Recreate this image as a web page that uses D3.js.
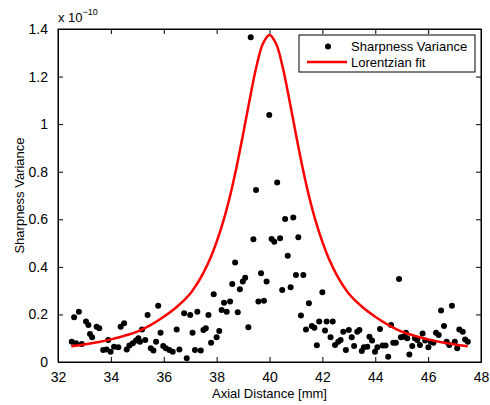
<!DOCTYPE html>
<html>
<head>
<meta charset="utf-8">
<script src="https://cdn.jsdelivr.net/npm/d3@7"></script>
<style>
  body { margin: 0; background: #fff; }
  svg { display: block; font-family: "Liberation Sans", Arial, Helvetica, sans-serif; }
</style>
</head>
<body>
<svg id="chart" width="490" height="405"></svg>
<script>
// Measured sharpness variance (units of 1e-10)
const sharpX = [
  32.52, 32.61, 32.68, 32.79, 32.90, 33.06, 33.15, 33.21, 33.29, 33.46, 33.56, 33.71, 33.84, 33.90, 33.99,
  34.12, 34.28, 34.37, 34.50, 34.60, 34.70, 34.83, 34.95, 35.04, 35.10, 35.18, 35.30, 35.39, 35.51, 35.61,
  35.71, 35.79, 35.88, 35.98, 36.08, 36.21, 36.34, 36.49, 36.59, 36.77, 36.87, 37.00, 37.09, 37.18, 37.27,
  37.40, 37.50, 37.59, 37.69, 37.79, 37.89, 38.00, 38.10, 38.19, 38.28, 38.38, 38.51, 38.59, 38.70, 38.80,
  38.88, 38.99, 39.08, 39.20, 39.29, 39.39, 39.49, 39.58, 39.68, 39.79, 39.89, 39.99, 40.08, 40.18, 40.29,
  40.40, 40.48, 40.59, 40.69, 40.80, 40.90, 41.00, 41.09, 41.19, 41.28, 41.38, 41.49, 41.60, 41.70, 41.79,
  41.88, 42.00, 42.10, 42.16, 42.31, 42.39, 42.48, 42.60, 42.69, 42.79, 42.89, 43.00, 43.11, 43.20, 43.32,
  43.40, 43.49, 43.57, 43.70, 43.78, 43.88, 43.99, 44.08, 44.18, 44.28, 44.39, 44.49, 44.60, 44.68, 44.78,
  44.90, 44.97, 45.06, 45.16, 45.21, 45.29, 45.40, 45.50, 45.59, 45.69, 45.79, 45.89, 46.01, 46.10, 46.20,
  46.30, 46.40, 46.49, 46.60, 46.70, 46.80, 46.90, 47.01, 47.10, 47.18, 47.31, 47.40, 47.50
];
const sharpY = [
  0.085, 0.188, 0.079, 0.211, 0.076, 0.170, 0.156, 0.118, 0.104, 0.148, 0.142, 0.050, 0.053, 0.092, 0.043,
  0.064, 0.062, 0.148, 0.163, 0.053, 0.069, 0.079, 0.090, 0.100, 0.085, 0.137, 0.092, 0.198, 0.058, 0.048,
  0.085, 0.237, 0.123, 0.067, 0.058, 0.050, 0.043, 0.137, 0.053, 0.205, 0.016, 0.198, 0.123, 0.050, 0.211,
  0.048, 0.135, 0.142, 0.198, 0.081, 0.285, 0.104, 0.130, 0.219, 0.249, 0.211, 0.254, 0.328, 0.418, 0.209,
  0.306, 0.338, 0.354, 0.146, 1.365, 0.516, 0.723, 0.254, 0.373, 0.258, 0.338, 1.038, 0.517, 0.506, 0.755,
  0.520, 0.303, 0.601, 0.447, 0.314, 0.607, 0.366, 0.524, 0.195, 0.366, 0.137, 0.247, 0.151, 0.144, 0.070,
  0.170, 0.293, 0.132, 0.170, 0.104, 0.170, 0.071, 0.085, 0.092, 0.127, 0.050, 0.135, 0.104, 0.067, 0.127,
  0.135, 0.046, 0.062, 0.064, 0.106, 0.090, 0.043, 0.062, 0.139, 0.069, 0.069, 0.022, 0.156, 0.081, 0.081,
  0.349, 0.104, 0.106, 0.123, 0.100, 0.032, 0.067, 0.100, 0.092, 0.071, 0.120, 0.090, 0.062, 0.085, 0.081,
  0.123, 0.113, 0.216, 0.151, 0.085, 0.071, 0.237, 0.085, 0.058, 0.137, 0.127, 0.095, 0.085
];

// Lorentzian fit curve
const fitX = [
  32.5, 33, 33.5, 34, 34.5, 35, 35.5, 36, 36.5, 37, 37.25, 37.5, 37.75, 38, 38.25, 38.5, 38.75, 39, 39.25,
  39.5, 39.75, 40, 40.25, 40.5, 40.75, 41, 41.25, 41.5, 41.75, 42, 42.25, 42.5, 42.75, 43, 43.5, 44, 44.5,
  45, 45.5, 46, 46.5, 47, 47.5
];
const fitY = [
  0.066, 0.074, 0.083, 0.095, 0.110, 0.128, 0.155, 0.190, 0.232, 0.287, 0.327, 0.375, 0.433, 0.505, 0.591,
  0.695, 0.818, 0.957, 1.103, 1.239, 1.338, 1.375, 1.338, 1.239, 1.103, 0.957, 0.818, 0.695, 0.591, 0.505,
  0.433, 0.375, 0.327, 0.287, 0.232, 0.190, 0.155, 0.128, 0.110, 0.095, 0.083, 0.074, 0.066
];

const xTicks = [32, 34, 36, 38, 40, 42, 44, 46, 48];
const yTicks = [0, 0.2, 0.4, 0.6, 0.8, 1, 1.2, 1.4];
const yTickLabels = ["0", "0.2", "0.4", "0.6", "0.8", "1", "1.2", "1.4"];
const legendLabels = ["Sharpness Variance", "Lorentzian fit"];

// Set up dimensions
const margin = { top: 29, right: 9, bottom: 43, left: 58 };
const width = 490 - margin.left - margin.right;
const height = 405 - margin.top - margin.bottom;

const svg = d3.select("#chart");
const g = svg.append("g")
  .attr("transform", `translate(${ margin.left }, ${ margin.top })`);

// Scales
const xScale = d3.scaleLinear().domain([32, 48]).range([0, width]);
const yScale = d3.scaleLinear().domain([0, 1.4]).range([height, 0]);

// Axes (inward ticks on all four sides, MATLAB style)
const tickLen = 5;
g.append("g")
  .attr("transform", `translate(0, ${ height })`)
  .call(d3.axisBottom(xScale).tickValues(xTicks).tickSizeInner(-tickLen).tickSizeOuter(0).tickPadding(7))
  .call(a => a.selectAll("text").attr("font-size", "14px").attr("fill", "#000").attr("dy", "0.95em"));

g.append("g")
  .call(d3.axisTop(xScale).tickValues(xTicks).tickSizeInner(-tickLen).tickSizeOuter(0).tickFormat(""));

g.append("g")
  .call(d3.axisLeft(yScale).tickValues(yTicks).tickSizeInner(-tickLen).tickSizeOuter(0).tickPadding(10)
    .tickFormat((d, i) => yTickLabels[i]))
  .call(a => a.selectAll("text").attr("font-size", "14px").attr("fill", "#000"));

g.append("g")
  .attr("transform", `translate(${ width }, 0)`)
  .call(d3.axisRight(yScale).tickValues(yTicks).tickSizeInner(-tickLen).tickSizeOuter(0).tickFormat(""));

svg.selectAll(".domain").attr("stroke", "#000");
svg.selectAll(".tick line").attr("stroke", "#000");

// Box
g.append("rect")
  .attr("width", width)
  .attr("height", height)
  .attr("fill", "none")
  .attr("stroke", "#000")
  .attr("stroke-width", 1);

// Scatter points
const points = sharpX.map((x, i) => ({ x: x, y: sharpY[i] }));
g.selectAll("circle.pt")
  .data(points)
  .enter()
  .append("circle")
  .attr("class", "pt")
  .attr("cx", d => xScale(d.x))
  .attr("cy", d => yScale(d.y))
  .attr("r", 3)
  .attr("fill", "#000");

// Fit line
const fit = fitX.map((x, i) => ({ x: x, y: fitY[i] }));
const line = d3.line()
  .x(d => xScale(d.x))
  .y(d => yScale(d.y))
  .curve(d3.curveCatmullRom.alpha(0.5));

g.append("path")
  .datum(fit)
  .attr("d", line)
  .attr("fill", "none")
  .attr("stroke", "#ff0000")
  .attr("stroke-width", 2.5);

// Exponent label
const expo = svg.append("text")
  .attr("x", margin.left)
  .attr("y", 22)
  .attr("font-size", "13px")
  .attr("fill", "#000");
expo.append("tspan").text("x 10");
expo.append("tspan")
  .attr("dy", "-7")
  .attr("font-size", "9px")
  .text("\u221210");

// Legend
const legend = svg.append("g").attr("transform", "translate(299, 35)");
legend.append("rect")
  .attr("width", 176)
  .attr("height", 37)
  .attr("fill", "#fff")
  .attr("stroke", "#000")
  .attr("stroke-width", 1);
legend.append("circle")
  .attr("cx", 29)
  .attr("cy", 11.5)
  .attr("r", 3)
  .attr("fill", "#000");
legend.append("line")
  .attr("x1", 8)
  .attr("x2", 48)
  .attr("y1", 27)
  .attr("y2", 27)
  .attr("stroke", "#ff0000")
  .attr("stroke-width", 2.5);
legend.selectAll("text")
  .data(legendLabels)
  .enter()
  .append("text")
  .attr("x", 52)
  .attr("y", (d, i) => 16 + i * 15.5)
  .attr("font-size", "13px")
  .attr("fill", "#000")
  .text(d => d);

// X axis label
svg.append("text")
  .attr("x", margin.left + width / 2)
  .attr("y", 398)
  .attr("text-anchor", "middle")
  .attr("font-size", "13px")
  .attr("fill", "#000")
  .text("Axial Distance [mm]");

// Y axis label
svg.append("text")
  .attr("transform", "rotate(-90)")
  .attr("x", -(margin.top + height / 2))
  .attr("y", 24)
  .attr("text-anchor", "middle")
  .attr("font-size", "13px")
  .attr("fill", "#000")
  .text("Sharpness Variance");
</script>
</body>
</html>
